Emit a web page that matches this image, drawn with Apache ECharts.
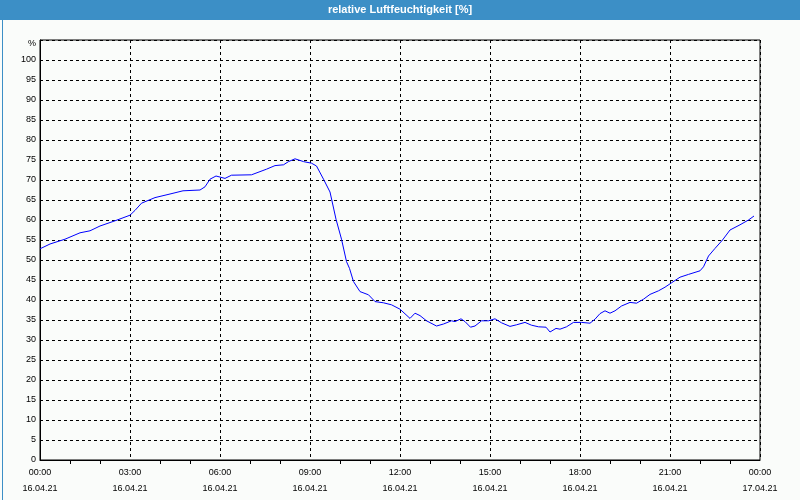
<!DOCTYPE html>
<html>
<head>
<meta charset="utf-8">
<script src="https://cdn.jsdelivr.net/npm/echarts@6/dist/echarts.min.js"></script>
<style>
html,body{margin:0;padding:0;background:#fafcfa;}
#chart{width:800px;height:500px;}
</style>
</head>
<body>
<div id="chart"></div>
<script>
var titleText = 'relative Luftfeuchtigkeit [%]';
var unitText = '%';
var times = ['00:00','00:20','00:50','01:20','01:40','02:00','02:30','03:00','03:10','03:23','03:50','04:20','04:46','05:20','05:30','05:40','05:52','06:10','06:23','07:03','07:33','07:50','08:07','08:17','08:30','08:47','09:03','09:13','09:27','09:40','09:52','10:03','10:13','10:19','10:27','10:40','10:57','11:10','11:27','11:43','12:00','12:20','12:30','12:40','12:53','13:13','13:27','13:43','13:50','14:02','14:10','14:21','14:30','14:43','14:57','15:10','15:23','15:40','15:53','16:10','16:23','16:37','16:52','17:00','17:12','17:20','17:33','17:47','18:03','18:20','18:30','18:40','18:50','19:00','19:10','19:23','19:40','19:53','20:07','20:20','20:37','20:50','21:03','21:20','21:37','22:00','22:07','22:17','22:30','22:45','23:00','23:20','23:37','23:48'];
var humidity = [52.8,54.0,55.2,56.8,57.3,58.5,59.8,61.2,62.4,64.2,65.6,66.5,67.3,67.5,68.3,70.2,71.0,70.4,71.2,71.3,72.7,73.6,73.8,74.6,75.3,74.6,74.2,73.5,70.2,67.0,60.2,55.2,49.6,47.9,44.6,42.1,41.3,39.6,39.3,38.8,37.7,35.4,36.7,36.1,34.8,33.5,34.0,34.8,34.6,35.3,34.6,33.2,33.5,34.8,34.8,35.3,34.3,33.4,33.8,34.4,33.7,33.3,33.2,32.0,32.9,32.7,33.3,34.4,34.4,34.2,35.2,36.6,37.3,36.7,37.3,38.5,39.4,39.2,40.2,41.4,42.3,43.2,44.3,45.7,46.4,47.3,48.3,51.0,52.9,55.0,57.5,58.8,60.0,61.0];
var tickTimes = ['00:00','03:00','06:00','09:00','12:00','15:00','18:00','21:00','00:00'];
var tickDates = ['16.04.21','16.04.21','16.04.21','16.04.21','16.04.21','16.04.21','16.04.21','16.04.21','17.04.21'];

function toHours(s){var p=s.split(':');return +p[0]+(+p[1])/60;}
var seriesData = times.map(function(t,i){return [toHours(t), humidity[i]];});

var chart = echarts.init(document.getElementById('chart'), null, {renderer:'canvas'});
var labelFont = {fontFamily:'Liberation Sans', fontSize:9, color:'#000'};
chart.setOption({
  backgroundColor:'#fafcfa',
  animation:false,
  grid:{left:40,right:40,top:40,bottom:40,show:true,borderColor:'#000',borderWidth:1,backgroundColor:'transparent'},
  xAxis:{
    type:'value',min:0,max:24,interval:3,
    axisLine:{show:true,lineStyle:{color:'#000',width:1}},
    axisTick:{show:false},
    minorTick:{show:true,splitNumber:3,length:4,lineStyle:{color:'#000',width:1}},
    splitLine:{show:true,lineStyle:{color:'#000',type:[3,3],width:1}},
    axisLabel:{
      margin:5,lineHeight:16,fontFamily:'Liberation Sans',fontSize:9,color:'#000',
      formatter:function(v){var i=Math.round(v/3);return tickTimes[i]+'\n'+tickDates[i];}
    }
  },
  yAxis:{
    type:'value',min:0,max:105,interval:5,
    axisLine:{show:true,lineStyle:{color:'#000',width:1}},
    axisTick:{show:false},
    splitLine:{show:true,lineStyle:{color:'#000',type:[3,3],width:1}},
    axisLabel:{margin:4,fontFamily:'Liberation Sans',fontSize:9,color:'#000',
      formatter:function(v){return v>100?'':String(v);}}
  },
  series:[{
    type:'line',data:seriesData,showSymbol:false,symbol:'none',
    lineStyle:{color:'#0000ff',width:1},z:5
  }],
  graphic:[
    {type:'rect',left:0,top:0,shape:{width:800,height:20},style:{fill:'#3c8fc6'},z:10},
    {type:'rect',left:0,top:0,shape:{x:0.5,y:0.5,width:799,height:499},style:{fill:null,stroke:'#3c8fc6',lineWidth:1},z:10},
    {type:'text',left:'center',top:4,style:{text:titleText,fill:'#fff',font:'bold 11px "Liberation Sans"'},z:11},
    {type:'text',right:764,top:39,style:{text:unitText,fill:'#000',font:'9px "Liberation Sans"'},z:11}
  ]
});
</script>
</body>
</html>
